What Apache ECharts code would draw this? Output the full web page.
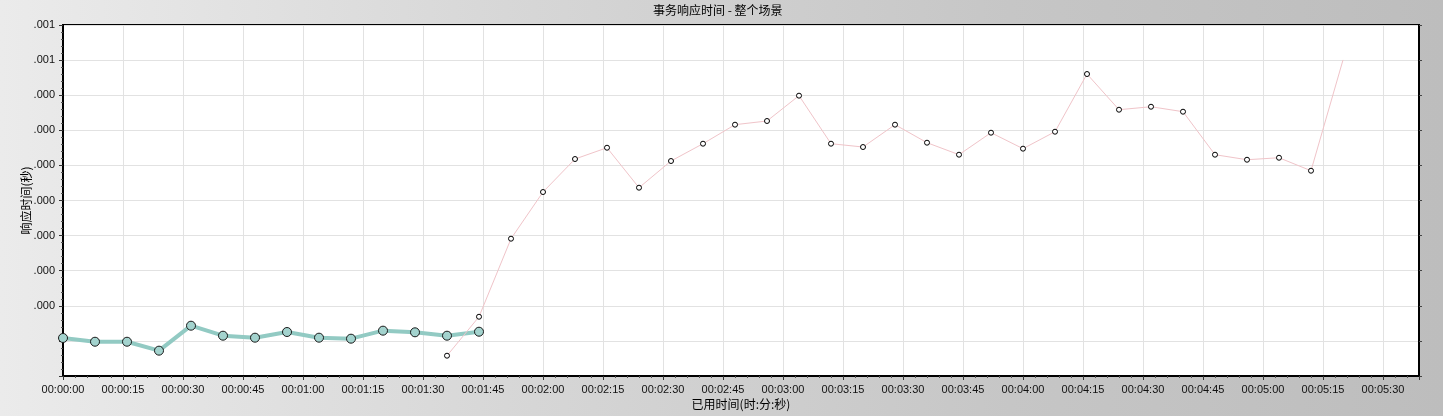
<!DOCTYPE html>
<html>
<head>
<meta charset="utf-8">
<script src="https://cdn.jsdelivr.net/npm/echarts@6/dist/echarts.min.js"></script>
<style>
html,body{margin:0;padding:0;width:1443px;height:416px;overflow:hidden;}
#c{width:1443px;height:416px;}
</style>
</head>
<body>
<div id="c"></div>
<script>
// ---- data ----
const titleText = '事务响应时间 - 整个场景';
const xAxisName = '已用时间(时:分:秒)';
const yAxisName = '响应时间(秒)';
// elapsed seconds
const tealTimes = [0, 8, 16, 24, 32, 40, 48, 56, 64, 72, 80, 88, 96, 104];
const tealValues = [0.0000650, 0.0000586, 0.0000586, 0.0000433, 0.0000860, 0.0000689, 0.0000655,
                    0.0000752, 0.0000655, 0.0000638, 0.0000775, 0.0000747, 0.0000689, 0.0000757];
const pinkTimes = [96, 104, 112, 120, 128, 136, 144, 152, 160, 168, 176, 184, 192, 200, 208, 216,
                   224, 232, 240, 248, 256, 264, 272, 280, 288, 296, 304, 312, 320];
const pinkValues = [0.0000347, 0.0001013, 0.0002347, 0.0003145, 0.0003709, 0.0003902, 0.0003219,
                    0.0003675, 0.0003971, 0.0004296, 0.0004359, 0.0004792, 0.0003971, 0.0003914,
                    0.0004296, 0.0003988, 0.0003783, 0.0004159, 0.0003886, 0.0004176, 0.0005162,
                    0.0004552, 0.0004603, 0.0004518, 0.0003783, 0.0003697, 0.0003731, 0.0003509,
                    0.0005402];
// y tick labels from bottom (0) to top
const yTickLabels = ['', '', '.000', '.000', '.000', '.000', '.000', '.000', '.000', '.001', '.001'];
const yMin = 0, yMax = 0.0006, yStep = 0.00006;
const xMin = 0, xMax = 339, xStep = 15;

function fmtTime(s) {
  const h = Math.floor(s / 3600), m = Math.floor((s % 3600) / 60), sec = Math.round(s % 60);
  const p = n => (n < 10 ? '0' : '') + n;
  return p(h) + ':' + p(m) + ':' + p(sec);
}

const tealData = tealTimes.map((t, i) => [t, tealValues[i]]);
const pinkData = pinkTimes.map((t, i) => {
  const item = { value: [t, pinkValues[i]] };
  if (i === pinkTimes.length - 1) item.symbol = 'none';
  return item;
});

const FONT = '"Liberation Sans", Arial, "Noto Sans CJK SC", sans-serif';
const chart = echarts.init(document.getElementById('c'), null, { renderer: 'canvas' });
chart.setOption({
  animation: false,
  backgroundColor: {
    type: 'linear', x: 0, y: 0, x2: 1, y2: 0,
    colorStops: [
      { offset: 0, color: '#ebebeb' },
      { offset: 0.35, color: '#d7d7d7' },
      { offset: 0.7, color: '#c6c6c6' },
      { offset: 1, color: '#bdbdbd' }
    ]
  },
  title: {
    text: titleText, left: 653, top: 4, padding: 0,
    textStyle: { fontFamily: '"Noto Sans CJK SC", sans-serif', fontSize: 12, fontWeight: 'normal', color: '#000' }
  },
  grid: {
    left: 63, top: 25, right: 24, bottom: 40,
    show: true, backgroundColor: '#ffffff', borderColor: '#000', borderWidth: 2
  },
  xAxis: {
    type: 'value', min: xMin, max: xMax, interval: xStep,
    name: xAxisName, nameLocation: 'middle', nameGap: 22, nameMoveOverlap: false,
    nameTextStyle: { fontFamily: '"Noto Sans CJK SC", sans-serif', fontSize: 12, color: '#000' },
    axisLine: { show: true, onZero: false, lineStyle: { color: '#000', width: 2 } },
    axisTick: { show: true, length: 4, lineStyle: { color: '#333' } },
    minorTick: { show: true, splitNumber: 5, length: 2, lineStyle: { color: '#555' } },
    axisLabel: {
      margin: 8, fontFamily: FONT, fontSize: 11, color: '#111',
      formatter: v => (Math.round(v) % xStep === 0 ? fmtTime(v) : '')
    },
    splitLine: { show: true, lineStyle: { color: '#e2e2e2', width: 1 } }
  },
  yAxis: [{
    type: 'value', min: yMin, max: yMax, interval: yStep,
    name: yAxisName, nameLocation: 'middle', nameGap: 31, nameRotate: 90, nameMoveOverlap: false,
    nameTextStyle: { fontFamily: '"Noto Sans CJK SC", sans-serif', fontSize: 12, color: '#000' },
    axisLine: { show: true, lineStyle: { color: '#000', width: 2 } },
    axisTick: { show: true, length: 4, lineStyle: { color: '#333' } },
    minorTick: { show: true, splitNumber: 5, length: 2, lineStyle: { color: '#555' } },
    axisLabel: {
      margin: 8, fontFamily: FONT, fontSize: 11, color: '#111',
      formatter: v => { const k = Math.round((v - yMin) / yStep); return yTickLabels[k] !== undefined ? yTickLabels[k] : ''; }
    },
    splitLine: { show: true, lineStyle: { color: '#e2e2e2', width: 1 } }
  }, {
    type: 'value', min: yMin, max: yMax, interval: yStep, position: 'right',
    axisLine: { show: true, lineStyle: { color: '#000', width: 2 } },
    axisTick: { show: true, length: 3, lineStyle: { color: '#444' } },
    axisLabel: { show: false },
    splitLine: { show: false }
  }],
  series: [{
    type: 'line', data: tealData, yAxisIndex: 0,
    symbol: 'circle', symbolSize: 9,
    lineStyle: { color: '#92cac3', width: 4 },
    itemStyle: { color: '#a3d3ce', borderColor: '#1b1b1b', borderWidth: 1 },
    z: 3
  }, {
    type: 'line', data: pinkData, yAxisIndex: 0,
    symbol: 'circle', symbolSize: 5,
    lineStyle: { color: '#f0c4c9', width: 1 },
    itemStyle: { color: '#ffffff', borderColor: '#000', borderWidth: 1 },
    z: 4
  }]
});
</script>
</body>
</html>
